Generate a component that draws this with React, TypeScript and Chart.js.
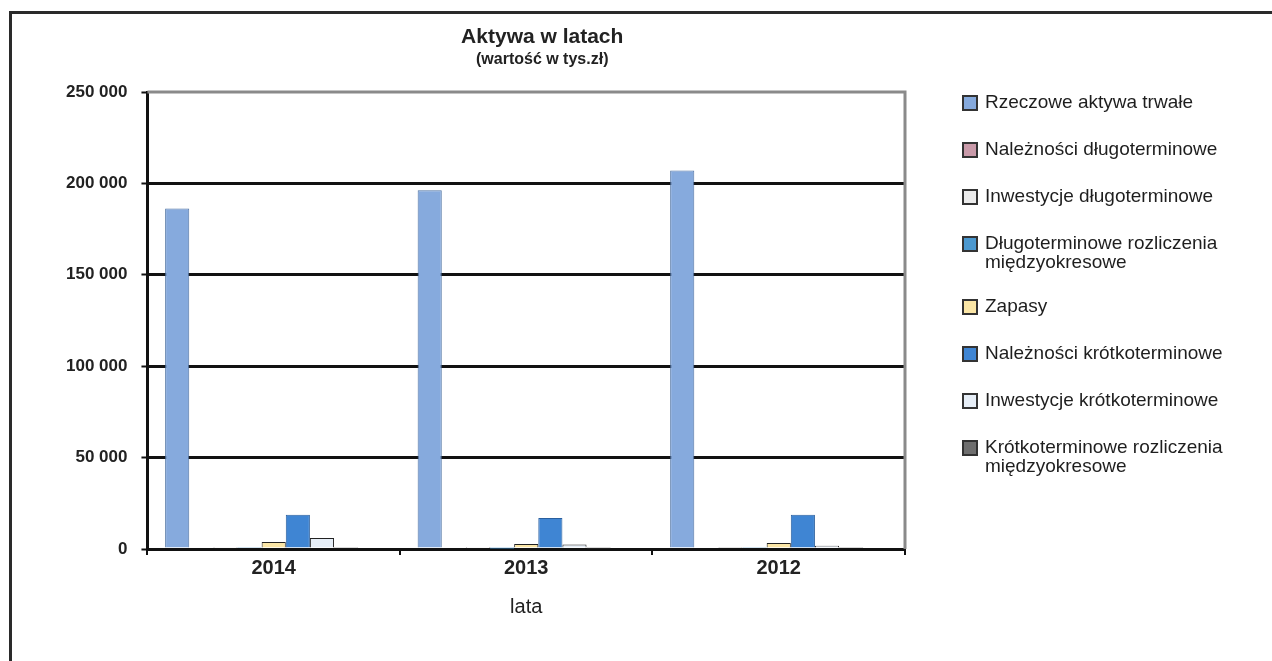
import React, { useEffect, useRef } from "react";
import { Chart, registerables } from "chart.js";

Chart.register(...registerables);

const years = ["2014", "2013", "2012"];

const seriesLabels = [
  "Rzeczowe aktywa trwałe",
  "Należności długoterminowe",
  "Inwestycje długoterminowe",
  "Długoterminowe rozliczenia\nmiędzyokresowe",
  "Zapasy",
  "Należności krótkoterminowe",
  "Inwestycje krótkoterminowe",
  "Krótkoterminowe rozliczenia\nmiędzyokresowe",
];

const rzeczoweAktywa = [186300, 196200, 207000];
const naleznosciDlugo = [0, 0, 0];
const inwestycjeDlugo = [300, 300, 500];
const rozliczeniaDlugo = [600, 200, 500];
const zapasy = [3800, 2700, 3300];
const naleznosciKrotko = [18700, 17000, 18700];
const inwestycjeKrotko = [6000, 2500, 1800];
const rozliczeniaKrotko = [400, 300, 600];

const yTicks = [0, 50000, 100000, 150000, 200000, 250000];

const titleText = "Aktywa w latach";
const subtitleText = "(wartość w tys.zł)";
const xTitle = "lata";

const fills = ["#86aadd", "#c99aa9", "#ececec", "#4b98cf", "#fbe6a6", "#3f85d3", "#e6eef7", "#6f6f6f"];
const borders = ["#4f73a3", "#555555", "#222222", "#2f6f9f", "#222222", "#2a5f9e", "#222222", "#444444"];

const FONT = "Arial, 'Liberation Sans', sans-serif";

function fmt(v: number) {
  return String(v).replace(/\B(?=(\d{3})+(?!\d))/g, " ");
}

const decorPlugin = {
  id: "decor",
  afterDraw(chart: any) {
    const { ctx, chartArea } = chart;
    ctx.save();
    // plot frame (top + right, grey)
    ctx.strokeStyle = "#8a8a8a";
    ctx.lineWidth = 3;
    ctx.beginPath();
    ctx.moveTo(chartArea.left, chartArea.top);
    ctx.lineTo(chartArea.right, chartArea.top);
    ctx.lineTo(chartArea.right, chartArea.bottom);
    ctx.stroke();

    // title + subtitle
    ctx.fillStyle = "#222";
    ctx.textAlign = "center";
    ctx.textBaseline = "middle";
    const cx = (chartArea.left + chartArea.right) / 2 + 16;
    ctx.font = `bold 21px ${FONT}`;
    ctx.fillText(titleText, cx, 37);
    ctx.font = `bold 16px ${FONT}`;
    ctx.fillText(subtitleText, cx, 60);

    // legend
    const x0 = chartArea.right + 58;
    let y = 103;
    ctx.textAlign = "left";
    ctx.font = `19px ${FONT}`;
    chart.data.datasets.forEach((ds: any) => {
      if (!ds.label) return;
      const lines = String(ds.label).split("\n");
      ctx.fillStyle = ds.backgroundColor;
      ctx.fillRect(x0, y - 7, 14, 14);
      ctx.strokeStyle = "#333";
      ctx.lineWidth = 2;
      ctx.strokeRect(x0, y - 7, 14, 14);
      ctx.fillStyle = "#1e1e1e";
      lines.forEach((ln: string, i: number) => ctx.fillText(ln, x0 + 22, y + i * 19));
      y += 47 + (lines.length - 1) * 16;
    });
    ctx.restore();
  },
};

export default function App() {
  const ref = useRef<HTMLCanvasElement | null>(null);

  useEffect(() => {
    if (!ref.current) return;
    const values = [
      rzeczoweAktywa,
      naleznosciDlugo,
      inwestycjeDlugo,
      rozliczeniaDlugo,
      zapasy,
      naleznosciKrotko,
      inwestycjeKrotko,
      rozliczeniaKrotko,
    ];
    const datasets: any[] = values.map((d, i) => ({
      label: seriesLabels[i],
      data: d,
      backgroundColor: fills[i],
      borderColor: borders[i],
      borderWidth: 1,
    }));
    // empty ninth slot (series without values, not in legend)
    datasets.push({
      label: "",
      data: [null, null, null],
      backgroundColor: "transparent",
      borderWidth: 0,
    });

    const chart = new Chart(ref.current, {
      type: "bar",
      data: { labels: years, datasets },
      plugins: [decorPlugin],
      options: {
        responsive: false,
        animation: false,
        devicePixelRatio: 1,
        layout: { padding: { top: 92, left: 52, right: 367, bottom: 42 } },
        datasets: { bar: { barPercentage: 1, categoryPercentage: 0.86 } },
        scales: {
          x: {
            position: "bottom",
            offset: true,
            grid: {
              drawOnChartArea: false,
              drawTicks: true,
              tickLength: 6,
              color: "#111",
              lineWidth: 2,
            },
            border: { display: true, color: "#111", width: 3 },
            ticks: {
              color: "#222",
              padding: 1,
              font: { family: FONT, size: 20, weight: "bold" },
            },
            title: {
              display: true,
              text: xTitle,
              color: "#222",
              padding: { top: 14, bottom: 0 },
              font: { family: FONT, size: 20 },
            },
          },
          y: {
            min: 0,
            max: 250000,
            afterBuildTicks: (s: any) => {
              s.ticks = yTicks.map((v) => ({ value: v }));
            },
            grid: {
              drawTicks: true,
              tickLength: 6,
              lineWidth: 3,
              color: (c: any) => (c.tick && c.tick.value === 250000 ? "rgba(0,0,0,0)" : "#111"),
              tickColor: "#111",
              tickWidth: 2,
            },
            border: { display: true, color: "#111", width: 3 },
            ticks: {
              color: "#222",
              padding: 14,
              font: { family: FONT, size: 17, weight: "bold" },
              callback: (v: any) => fmt(Number(v)),
            },
          },
        },
        plugins: {
          legend: { display: false },
          title: { display: false },
          tooltip: { enabled: false },
        },
      },
    });
    return () => chart.destroy();
  }, []);

  return (
    <div style={{ position: "fixed", left: 0, top: 0, width: 1272, height: 661, background: "#fff" }}>
      <canvas ref={ref} width={1272} height={661} style={{ width: 1272, height: 661, display: "block" }} />
      <div
        style={{
          position: "absolute",
          left: 9,
          top: 11,
          right: 0,
          bottom: 0,
          borderLeft: "3px solid #2a2a2a",
          borderTop: "3px solid #2a2a2a",
          pointerEvents: "none",
        }}
      />
    </div>
  );
}
